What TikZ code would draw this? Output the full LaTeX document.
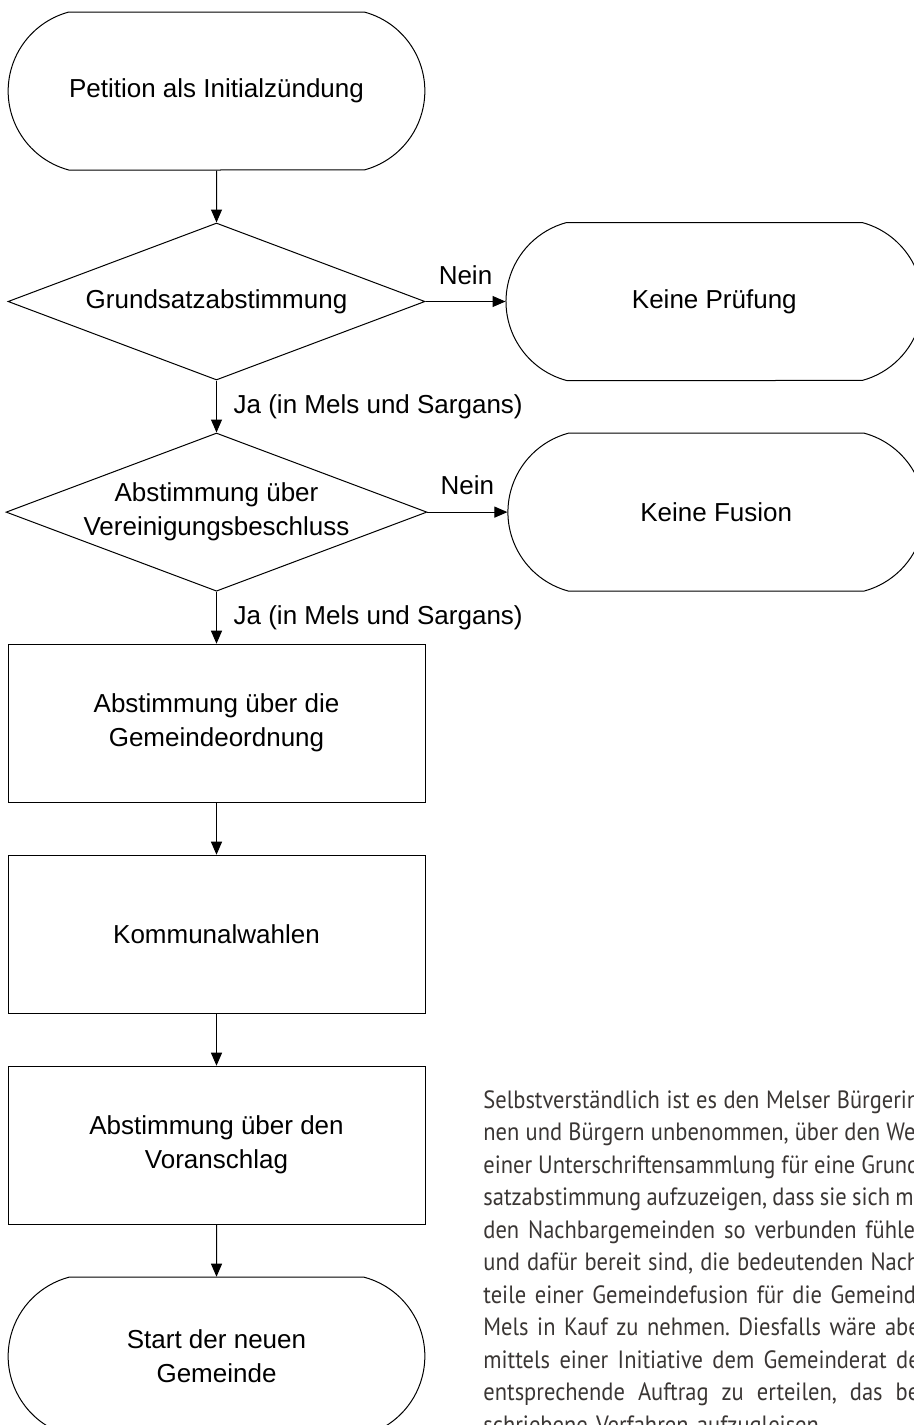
\documentclass[tikz,border=0pt]{standalone}
\usepackage{fontspec}
\setmainfont{Liberation Sans}
\newfontfamily\notefont[FakeStretch=0.9]{PT Sans}
\usetikzlibrary{arrows.meta,shapes.geometric,shapes.misc,positioning}
\definecolor{notegray}{RGB}{58,54,52}
\newcommand{\fullline}[1]{\makebox[222pt][s]{\frenchspacing\spaceskip=\fontdimen2\font plus 1fil minus 0.3\fontdimen2\font #1}}

\tikzset{
  terminal/.style={rounded rectangle,rounded rectangle arc length=150,draw,line width=0.5pt,
    minimum width=215pt,minimum height=79pt,align=center},
  decision/.style={diamond,draw,line width=0.5pt,aspect=2.66,
    minimum width=208.5pt,minimum height=78.5pt,inner sep=0pt,align=center},
  process/.style={rectangle,draw,line width=0.5pt,minimum width=208.5pt,minimum height=79pt,align=center},
  flow/.style={-{Triangle[length=6.5pt,width=5.5pt]},line width=0.5pt},
  notetext/.style={anchor=north west,inner sep=0pt,text width=222pt,align=left,text=notegray,
    font=\notefont\fontsize{12.5}{16.25}\selectfont}
}

\begin{document}
\begin{tikzpicture}[x=0.5pt,y=-0.5pt,node distance=26pt and 40pt,font=\fontsize{13}{17}\selectfont]
\useasboundingbox (0,0) rectangle (914,1425);
\clip (0,0) rectangle (914,1425);

\node [terminal] (petition) at (216.5,91) {Petition als Initialzündung};
\node [decision,below=of petition] (grund) {Grundsatzabstimmung};
\node [terminal,right=of grund] (pruef) {Keine Prüfung};
\node [decision,below=of grund] (verein) {Abstimmung über\\Vereinigungsbeschluss};
\node [terminal,right=of verein] (fusion) {Keine Fusion};
\node [process,below=of verein] (ordnung) {Abstimmung über die\\Gemeindeordnung};
\node [process,below=of ordnung] (wahl) {Kommunalwahlen};
\node [process,below=of wahl] (budget) {Abstimmung über den\\Voranschlag};
\node [terminal,below=of budget] (start) {Start der neuen\\Gemeinde};

\draw [flow] (petition) -- (grund);
\draw [flow] (grund) -- node [above=5pt] {Nein} (pruef);
\draw [flow] (grund) -- node [right=5pt] {Ja (in Mels und Sargans)} (verein);
\draw [flow] (verein) -- node [above=5pt] {Nein} (fusion);
\draw [flow] (verein) -- node [right=5pt] {Ja (in Mels und Sargans)} (ordnung);
\draw [flow] (ordnung) -- (wahl);
\draw [flow] (wahl) -- (budget);
\draw [flow] (budget) -- (start);

% Begleittext
\node [notetext] (note) at (483,1090) {%
\fullline{Selbstverständlich ist es den Melser Bürgerin-}\\
\fullline{nen und Bürgern unbenommen, über den Weg}\\
\fullline{einer Unterschriftensammlung für eine Grund-}\\
\fullline{satzabstimmung aufzuzeigen, dass sie sich mit}\\
\fullline{den Nachbargemeinden so verbunden fühlen}\\
\fullline{und dafür bereit sind, die bedeutenden Nach-}\\
\fullline{teile einer Gemeindefusion für die Gemeinde}\\
\fullline{Mels in Kauf zu nehmen. Diesfalls wäre aber}\\
\fullline{mittels einer Initiative dem Gemeinderat der}\\
\fullline{entsprechende Auftrag zu erteilen, das be-}\\
schriebene Verfahren aufzugleisen.};
\end{tikzpicture}
\end{document}
